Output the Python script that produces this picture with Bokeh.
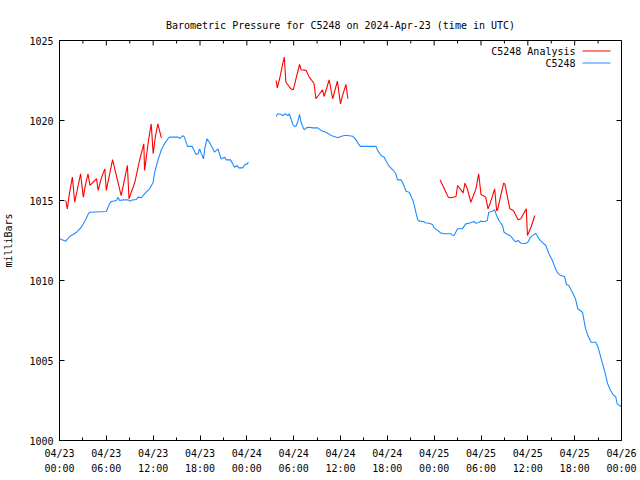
from bokeh.plotting import figure
from bokeh.models import Range1d, FixedTicker, LinearAxis, Label, BoxAnnotation
from bokeh.embed import file_html
from bokeh.resources import INLINE

FONT = "DejaVu Sans Mono"
FS = "10px"

title_text = "Barometric Pressure for C5248 on 2024-Apr-23 (time in UTC)"
y_label = "milliBars"
series_names = ["C5248 Analysis", "C5248"]
series_colors = ["#ff0000", "#1e8cff"]

# x in hours since 2024-04-23 00:00 UTC
x_tick_hours = [0, 6, 12, 18, 24, 30, 36, 42, 48, 54, 60, 66, 72]
x_minor_hours = [3, 9, 15, 21, 27, 33, 39, 45, 51, 57, 63, 69]
x_tick_dates = ["04/23", "04/23", "04/23", "04/23", "04/24", "04/24", "04/24",
                "04/24", "04/25", "04/25", "04/25", "04/25", "04/26"]
x_tick_times = ["00:00", "06:00", "12:00", "18:00", "00:00", "06:00", "12:00",
                "18:00", "00:00", "06:00", "12:00", "18:00", "00:00"]
y_ticks = [1000, 1005, 1010, 1015, 1020, 1025]

# C5248 observed pressure (blue)
obs1_t = [0, 0.26, 0.8, 1.3, 2.2, 2.8, 3.4, 3.7, 3.9, 6.0,
          6.4, 6.65, 7.3, 7.5, 7.7, 8.15, 8.8, 9.0, 9.4, 9.85,
          10.05, 10.5, 10.7, 11.1, 11.55, 12.0, 12.2, 12.6, 13.05, 13.45,
          13.9, 14.1, 15.2, 15.4, 15.8, 16.0, 16.4, 17.0, 17.2, 17.5,
          17.75, 17.95, 18.15, 18.45, 18.6, 18.9, 19.2, 19.65, 19.85, 20.1,
          20.3, 20.5, 20.7, 21.15, 21.35, 21.9, 22.2, 22.4, 22.75, 22.95,
          23.5, 23.7, 24.05, 24.2]
obs1_p = [1012.63, 1012.56, 1012.46, 1012.75, 1013.02, 1013.33, 1013.86, 1014.17, 1014.27, 1014.31,
          1014.79, 1014.94, 1015.0, 1015.21, 1015.0, 1015.04, 1015.04, 1014.96, 1015.04, 1015.06,
          1015.21, 1015.17, 1015.31, 1015.52, 1015.73, 1016.14, 1016.77, 1017.5, 1018.17, 1018.54,
          1018.86, 1018.96, 1018.96, 1018.86, 1019.06, 1018.96, 1018.38, 1018.38, 1018.17, 1017.88,
          1017.92, 1018.23, 1017.96, 1017.6, 1018.23, 1018.86, 1018.64, 1018.23, 1018.02, 1018.13,
          1018.23, 1017.92, 1017.6, 1017.71, 1017.54, 1017.54, 1017.29, 1017.08, 1017.19, 1017.04,
          1017.04, 1017.23, 1017.29, 1017.4]

obs2_t = [27.75, 27.95, 28.4, 28.6, 28.9, 29.25, 29.45, 29.65, 29.9, 30.1,
          30.3, 30.5, 30.75, 30.95, 31.15, 31.35, 31.6, 32.0, 32.45, 33.1,
          33.5, 33.95, 34.35, 34.8, 35.2, 35.65, 36.05, 36.5, 36.9, 37.55,
          38.0, 38.3, 38.55, 40.55, 40.75, 41.2, 41.6, 41.8, 42.25, 42.7,
          43.1, 43.3, 43.75, 43.95, 44.4, 44.8, 45.25, 45.45, 45.65, 45.9,
          46.1, 46.65, 46.8, 47.35, 47.8, 48.0, 48.45, 48.85, 49.3, 50.15,
          50.35, 50.55, 51.0, 51.6, 52.05, 52.7, 53.1, 53.3, 53.75, 53.95,
          54.4, 54.8, 55.0, 55.45, 55.75, 55.95, 56.3, 56.75, 56.95, 57.4,
          57.8, 58.15, 58.45, 58.75, 59.1, 59.7, 60.0, 60.35, 60.8, 61.0,
          61.2, 61.4, 61.85, 62.3, 62.7, 63.15, 63.55, 63.85, 64.2, 64.7,
          64.95, 65.25, 65.7, 66.1, 66.4, 67.0, 67.4, 67.7, 68.1, 68.7,
          69.0, 69.4, 69.7, 69.95, 70.2, 70.6, 71.0, 71.25, 71.45, 71.95]
obs2_p = [1020.25, 1020.42, 1020.38, 1020.29, 1020.42, 1020.31, 1020.42, 1020.11, 1019.75, 1019.63,
          1019.64, 1019.89, 1020.38, 1019.89, 1019.63, 1019.42, 1019.54, 1019.58, 1019.54, 1019.54,
          1019.38, 1019.29, 1019.21, 1019.06, 1019.0, 1018.92, 1019.0, 1019.06, 1019.06, 1019.02,
          1018.79, 1018.54, 1018.38, 1018.38, 1018.13, 1017.81, 1017.71, 1017.5, 1017.13, 1016.92,
          1016.67, 1016.29, 1016.29, 1016.14, 1015.58, 1015.52, 1015.04, 1014.69, 1014.27, 1013.79,
          1013.71, 1013.69, 1013.61, 1013.58, 1013.5, 1013.29, 1013.13, 1012.97, 1012.92, 1012.92,
          1012.83, 1012.81, 1013.23, 1013.23, 1013.54, 1013.61, 1013.69, 1013.58, 1013.63, 1013.71,
          1013.67, 1013.75, 1014.27, 1014.33, 1014.42, 1014.13, 1013.75, 1013.44, 1013.02, 1012.88,
          1012.78, 1012.56, 1012.42, 1012.5, 1012.33, 1012.31, 1012.39, 1012.71, 1012.88, 1012.94,
          1012.81, 1012.61, 1012.38, 1012.19, 1011.67, 1011.25, 1010.73, 1010.46, 1010.31, 1010.25,
          1009.75, 1009.69, 1009.27, 1008.86, 1008.23, 1008.02, 1006.98, 1006.56, 1006.14, 1006.14,
          1005.83, 1005.1, 1004.58, 1004.13, 1003.58, 1003.13, 1002.81, 1002.75, 1002.29, 1002.13]

# C5248 Analysis (red)
ana1_t = [0.8, 1.0, 1.3, 1.65, 1.95, 2.7, 3.05, 3.35, 3.65, 3.9,
          4.75, 4.95, 5.35, 5.8, 6.0, 6.8, 7.9, 8.7, 8.9, 9.65,
          10.25, 10.8, 10.9, 11.4, 11.75, 12.0, 12.3, 12.6, 13.05]
ana1_p = [1015.0, 1014.48, 1015.52, 1016.46, 1014.89, 1016.67, 1015.21, 1016.04, 1016.67, 1015.94,
          1016.36, 1015.63, 1016.38, 1016.98, 1015.63, 1017.56, 1015.31, 1017.19, 1015.11, 1016.14,
          1017.5, 1018.54, 1016.88, 1018.75, 1019.79, 1017.92, 1019.06, 1019.79, 1018.92]
ana2_t = [27.75, 27.9, 28.2, 28.6, 28.8, 29.0, 29.65, 29.95, 30.75, 30.95,
          31.6, 32.0, 32.6, 32.85, 33.7, 33.9, 34.55, 35.0, 35.6, 36.0,
          36.2, 36.7, 36.95]
ana2_p = [1022.5, 1022.04, 1022.61, 1023.56, 1023.96, 1022.39, 1021.98, 1021.92, 1023.5, 1023.17,
          1023.13, 1022.71, 1022.33, 1021.36, 1021.92, 1021.5, 1022.54, 1021.36, 1022.46, 1021.04,
          1021.46, 1022.25, 1021.36]
ana3_t = [48.75, 49.3, 49.8, 50.15, 50.8, 51.0, 51.65, 51.7, 51.95, 52.25,
          52.7, 53.35, 53.7, 54.0, 54.6, 54.9, 55.15, 55.75, 56.0, 56.1,
          56.9, 57.05, 57.7, 58.15, 58.75, 59.1, 59.8, 59.95, 60.4, 60.9]
ana3_p = [1016.29, 1015.73, 1015.21, 1015.17, 1015.25, 1015.94, 1015.52, 1015.46, 1016.08, 1015.73,
          1014.89, 1015.73, 1016.67, 1015.38, 1015.21, 1014.48, 1014.79, 1015.73, 1014.38, 1014.38,
          1016.08, 1016.04, 1014.48, 1014.38, 1013.79, 1013.86, 1014.48, 1012.81, 1013.33, 1014.06]

X0, X1, Y0, Y1 = 0, 72, 1000, 1025
W, H = 640, 480
BL, BR, BT, BB = 58, 19, 40, 40
p = figure(width=W, height=H, x_range=Range1d(X0, X1), y_range=Range1d(Y0, Y1),
           output_backend="svg", toolbar_location=None,
           min_border_left=BL, min_border_right=BR, min_border_top=BT, min_border_bottom=BB)
p.background_fill_color = "white"
p.border_fill_color = "white"
p.outline_line_color = "black"
p.outline_line_width = 1
p.grid.visible = False

p.title.text = title_text
p.title.align = "center"
p.title.text_font = FONT
p.title.text_font_size = FS
p.title.text_font_style = "normal"
p.title.text_color = "black"
p.title.standoff = 20

MAJ, MIN = 5, 3

def style_axis(ax):
    ax.axis_line_color = "black"
    ax.major_tick_line_color = "black"
    ax.minor_tick_line_color = "black"
    ax.major_tick_out = 0
    ax.minor_tick_out = 0
    ax.major_label_text_font = FONT
    ax.major_label_text_font_size = FS
    ax.major_label_text_color = "black"

# bottom axis: dates
xa = p.xaxis[0]
xa.ticker = FixedTicker(ticks=x_tick_hours, minor_ticks=x_minor_hours)
xa.major_label_overrides = {h: d for h, d in zip(x_tick_hours, x_tick_dates)}
style_axis(xa)
xa.major_tick_in = MAJ
xa.minor_tick_in = MIN
xa.major_label_standoff = 7

# second row of bottom labels: times
xa2 = LinearAxis(ticker=FixedTicker(ticks=x_tick_hours, minor_ticks=[]))
xa2.major_label_overrides = {h: t for h, t in zip(x_tick_hours, x_tick_times)}
style_axis(xa2)
xa2.axis_line_color = None
xa2.major_tick_in = 0
xa2.minor_tick_in = 0
xa2.major_label_standoff = 1
p.add_layout(xa2, "below")

# left axis
ya = p.yaxis[0]
ya.ticker = FixedTicker(ticks=y_ticks, minor_ticks=[])
style_axis(ya)
ya.major_tick_in = MAJ
ya.minor_tick_in = 0
ya.major_label_standoff = 6
ya.axis_label = y_label
ya.axis_label_text_font = FONT
ya.axis_label_text_font_size = FS
ya.axis_label_text_font_style = "normal"
ya.axis_label_text_color = "black"
ya.axis_label_standoff = 12

# mirrored tick marks on top and right borders (gnuplot style), derived from tick lists
fw = W - BL - BR
fh = H - BT - BB
dy_maj = MAJ * (Y1 - Y0) / fh
dy_min = MIN * (Y1 - Y0) / fh
dx_maj = MAJ * (X1 - X0) / fw
p.segment(x0=x_tick_hours, y0=[Y1] * len(x_tick_hours), x1=x_tick_hours,
          y1=[Y1 - dy_maj] * len(x_tick_hours), line_color="black", line_width=1)
p.segment(x0=x_minor_hours, y0=[Y1] * len(x_minor_hours), x1=x_minor_hours,
          y1=[Y1 - dy_min] * len(x_minor_hours), line_color="black", line_width=1)
p.segment(x0=[X1] * len(y_ticks), y0=y_ticks, x1=[X1 - dx_maj] * len(y_ticks),
          y1=y_ticks, line_color="black", line_width=1)

# data lines
for t, v in [(ana1_t, ana1_p), (ana2_t, ana2_p), (ana3_t, ana3_p)]:
    p.line(t, v, line_color=series_colors[0], line_width=1.1)
for t, v in [(obs1_t, obs1_p), (obs2_t, obs2_p)]:
    p.line(t, v, line_color=series_colors[1], line_width=1.1)

# gnuplot-style key: text right-aligned, sample line to its right (frame screen units)
for i, (name, col) in enumerate(zip(series_names, series_colors)):
    ys = 389.5 - 12 * i
    p.add_layout(Label(x=516, y=ys, x_units="screen", y_units="screen", text=name,
                       text_align="right", text_baseline="middle",
                       text_font=FONT, text_font_size=FS, text_color="black"))
    p.add_layout(BoxAnnotation(left=523, right=551, bottom=ys - 0.5, top=ys + 0.5,
                               left_units="screen", right_units="screen",
                               bottom_units="screen", top_units="screen",
                               fill_color=col, fill_alpha=1, line_color=None))

open("out.html", "w").write(file_html(p, INLINE))
